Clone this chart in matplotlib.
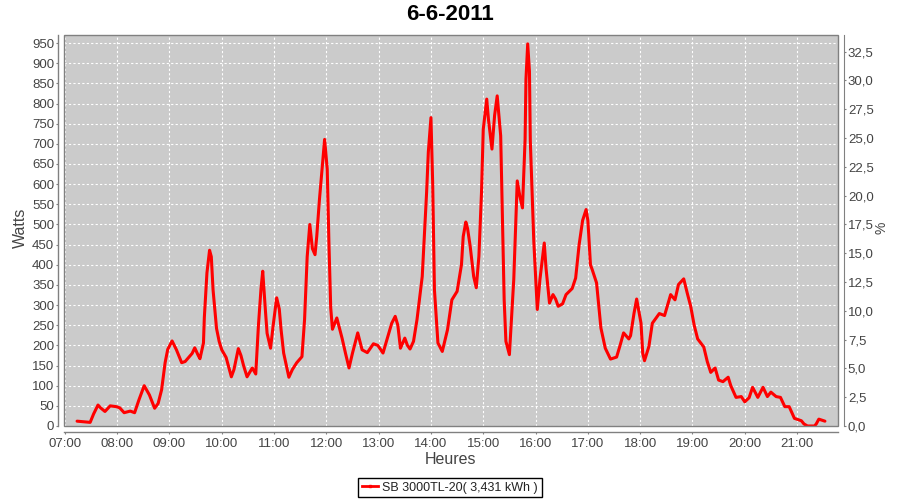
import matplotlib
matplotlib.use('Agg')
import matplotlib.pyplot as plt
from matplotlib.patches import Rectangle
from matplotlib.lines import Line2D
import numpy as np

plt.rcParams['font.family'] = ['Liberation Sans', 'DejaVu Sans']

title = "6-6-2011"
x_label = "Heures"
y_label = "Watts"
y2_label = "%"
series_label = "SB 3000TL-20( 3,431 kWh )"

times = ["07:14","07:29","07:33","07:38","07:41","07:46","07:52","07:59","08:03","08:08",
         "08:15","08:20","08:25","08:31","08:37","08:43","08:47","08:51","08:55","08:58",
         "09:03","09:08","09:14","09:18","09:22","09:26","09:29","09:33","09:35","09:39",
         "09:40","09:43","09:46","09:48","09:50","09:54","09:57","10:00","10:05","10:11",
         "10:14","10:19","10:22","10:25","10:29","10:35","10:39","10:42","10:45","10:47",
         "10:50","10:52","10:56","10:59","11:03","11:06","11:08","11:11","11:17","11:21",
         "11:26","11:32","11:35","11:38","11:41","11:44","11:47","11:49","11:52","11:55",
         "11:58","12:01","12:03","12:05","12:07","12:12","12:18","12:22","12:26","12:30",
         "12:36","12:41","12:47","12:54","12:59","13:05","13:10","13:15","13:19","13:22",
         "13:25","13:30","13:33","13:36","13:40","13:44","13:50","13:55","13:57","14:00",
         "14:02","14:04","14:08","14:13","14:19","14:24","14:30","14:35","14:37","14:40",
         "14:42","14:45","14:49","14:52","14:55","14:58","15:00","15:04","15:06","15:10",
         "15:13","15:16","15:20","15:22","15:24","15:26","15:30","15:32","15:35","15:39",
         "15:42","15:45","15:48","15:49","15:51","15:53","15:54","15:58","16:02","16:05",
         "16:10","16:12","16:16","16:20","16:23","16:26","16:31","16:35","16:42","16:46",
         "16:50","16:54","16:58","17:00","17:01","17:03","17:05","17:10","17:15","17:20",
         "17:26","17:33","17:37","17:41","17:47","17:49","17:53","17:56","18:01","18:03",
         "18:05","18:10","18:14","18:22","18:28","18:35","18:40","18:44","18:50","18:54",
         "18:58","19:02","19:06","19:13","19:17","19:21","19:26","19:30","19:35","19:41",
         "19:44","19:50","19:56","20:00","20:05","20:09","20:15","20:21","20:26","20:30",
         "20:36","20:41","20:46","20:51","20:57","21:05","21:08","21:12","21:20","21:22",
         "21:25","21:32"]

watts = [12, 9, 30, 52, 45, 36, 50, 48, 45, 33,
         37, 33, 65, 100, 77, 44, 56, 90, 157, 190,
         211, 189, 157, 160, 170, 180, 194, 175, 167, 206,
         269, 380, 436, 420, 338, 242, 210, 189, 170, 122,
         140, 192, 175, 150, 122, 144, 129, 247, 340, 384,
         289, 230, 193, 250, 318, 290, 240, 181, 121, 140,
         157, 172, 264, 420, 500, 440, 425, 471, 560, 637,
         711, 637, 450, 293, 240, 268, 218, 180, 144, 181,
         231, 189, 182, 204, 200, 181, 218, 255, 272, 250,
         193, 218, 200, 191, 210, 264, 371, 579, 680, 765,
         600, 338, 206, 185, 239, 313, 334, 400, 470, 506,
         490, 446, 371, 343, 421, 580, 736, 811, 760, 687,
         770, 819, 720, 520, 313, 210, 177, 250, 363, 608,
         570, 541, 711, 860, 948, 880, 707, 458, 289, 363,
         454, 392, 305, 326, 315, 297, 303, 326, 341, 367,
         450, 510, 537, 510, 475, 400, 388, 355, 243, 193,
         166, 171, 200, 231, 216, 224, 280, 315, 255, 180,
         162, 197, 255, 279, 274, 326, 313, 351, 365, 330,
         297, 250, 216, 196, 160, 133, 144, 114, 110, 121,
         100, 71, 73, 60, 70, 96, 71, 96, 73, 84,
         73, 71, 48, 48, 19, 13, 5, 0, 0, 5,
         17, 12]

hour_ticks = ["07:00","08:00","09:00","10:00","11:00","12:00","13:00","14:00",
              "15:00","16:00","17:00","18:00","19:00","20:00","21:00"]
watt_ticks = list(range(0, 951, 50))
pct_ticks = [0.0, 2.5, 5.0, 7.5, 10.0, 12.5, 15.0, 17.5, 20.0, 22.5, 25.0, 27.5, 30.0, 32.5]

def to_min(t):
    return int(t[:2]) * 60 + int(t[3:])

mins = [to_min(t) for t in times]
tick_mins = [to_min(t) for t in hour_ticks]

W, H = 900, 500
fig = plt.figure(figsize=(9, 5), dpi=100)
fig.patch.set_facecolor('white')
L, R, T, B = 64, 838, 35, 426
ax = fig.add_axes([L / W, 1 - B / H, (R - L) / W, (B - T) / H])
ax.set_facecolor('#CBCBCB')

ax.plot(mins, watts, color='#FF0000', lw=2.2, solid_joinstyle='round',
        solid_capstyle='round', zorder=3)

ax.set_xlim(419, 1307)
ax.set_ylim(0, 970)
ax.set_xticks(tick_mins)
ax.set_xticklabels(hour_ticks)
ax.set_yticks(watt_ticks)
ax.set_yticklabels([str(v) for v in watt_ticks])
ax.grid(True, color='white', linestyle=(0, (2, 2)), linewidth=0.8)

for s in ['top', 'right']:
    ax.spines[s].set_visible(False)
for s in ['left', 'bottom']:
    ax.spines[s].set_position(('outward', 4))
    ax.spines[s].set_color('#808080')
    ax.spines[s].set_linewidth(1)

ax.add_patch(Rectangle((0, 0), 1, 1, transform=ax.transAxes, fill=False,
                       edgecolor='#808080', lw=1, clip_on=False, zorder=5))

ax.tick_params(axis='y', direction='out', length=1.6, width=0.8, color='#808080',
               labelcolor='#444444', labelsize=9.5, pad=1.5)
ax.tick_params(axis='x', direction='out', length=1.6, width=0.8, color='#808080',
               labelcolor='#444444', labelsize=9.5, pad=3)

ax2 = ax.twinx()
ax2.set_ylim(0, 33.95)
ax2.set_yticks(pct_ticks)
ax2.set_yticklabels([f"{v:.1f}".replace('.', ',') for v in pct_ticks])
for s in ['top', 'left', 'bottom']:
    ax2.spines[s].set_visible(False)
ax2.spines['right'].set_position(('outward', 4))
ax2.spines['right'].set_color('#808080')
ax2.tick_params(axis='y', direction='out', length=1.6, width=0.8, color='#808080',
                labelcolor='#444444', labelsize=9.5, pad=1.5)

fig.text(0.5, 1 - 14 / H, title, ha='center', va='center', fontsize=16, fontweight='bold', color='black')
fig.text(450 / W, 1 - 460 / H, x_label, ha='center', va='center', fontsize=11.5, color='#444444')
fig.text(20 / W, 1 - 228 / H, y_label, ha='center', va='center', rotation=90, fontsize=11.5, color='#444444')
fig.text(881 / W, 1 - 228 / H, y2_label, ha='center', va='center', rotation=90, fontsize=10, color='#444444')

handle = Line2D([], [], color='#FF0000', lw=2, marker='s', markersize=2)
leg = fig.legend([handle], [series_label], loc='center', bbox_to_anchor=(450 / W, 1 - 487.5 / H),
                 frameon=True, fancybox=False, edgecolor='black', framealpha=1, fontsize=9,
                 handlelength=1.3, handletextpad=0.3, borderpad=0.3, borderaxespad=0)
leg.get_frame().set_linewidth(1.0)
for t in leg.get_texts():
    t.set_color('#222222')

fig.savefig('out.png', dpi=100)
